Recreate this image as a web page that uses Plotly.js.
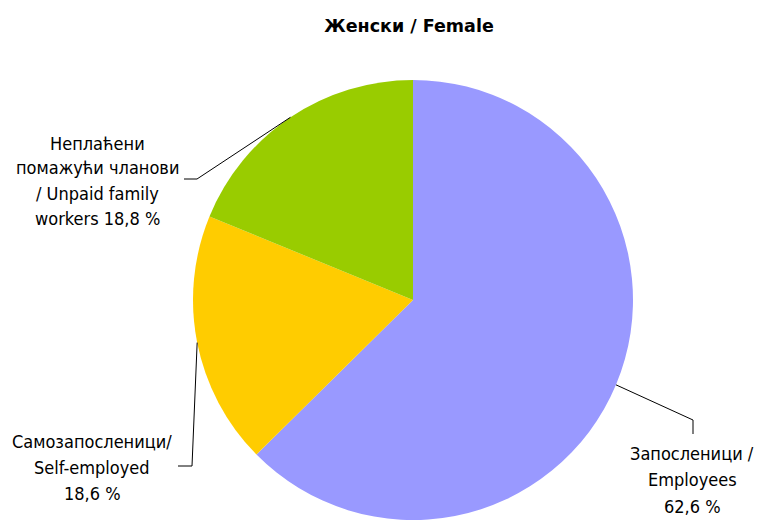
<!DOCTYPE html>
<html>
<head>
<meta charset="utf-8">
<script src="https://cdn.plot.ly/plotly-3.0.1.min.js"></script>
<style>
  body { margin: 0; background: #fff; }
  #chart { width: 763px; height: 520px; }
</style>
</head>
<body>
<div id="chart"></div>
<script>
// data
var categories = ['Запосленици / Employees', 'Самозапосленици/ Self-employed', 'Неплаћени помажући чланови / Unpaid family workers'];
var shares = [62.6, 18.6, 18.8];
var labelLines = [
    ['Запосленици /', 'Employees', '62,6 %'],
    ['Самозапосленици/', 'Self-employed', '18,6 %'],
    ['Неплаћени', 'помажући чланови', '/ Unpaid family', 'workers 18,8 %']
];
var colors = ['#9999FF', '#FFCC00', '#99CC00'];

var W = 763, H = 520;
var cx = 413, cy = 300, r = 220;

// label layout: centre x, first line y, line step, leader elbow and end (pixels)
var labelPos = [
    { x: 692, y: 453, step: 26.5, elbow: [693, 420], end: [693, 434] },
    { x: 92, y: 441, step: 26, elbow: [192, 466], end: [178, 466] },
    { x: 97, y: 143, step: 25, elbow: [197, 179], end: [184, 179] }
];

function px(x) { return x / W; }
function py(y) { return 1 - y / H; }

var font = '"DejaVu Sans Condensed", "DejaVu Sans", sans-serif';

var annotations = [];
var shapes = [];
var total = shares.reduce(function (a, b) { return a + b; }, 0);
var cum = 0;
shares.forEach(function (v, i) {
    var mid = (cum + v / 2) / total * 2 * Math.PI;
    cum += v;
    var ex = cx + r * Math.sin(mid);
    var ey = cy - r * Math.cos(mid);
    var p = labelPos[i];
    shapes.push({
        type: 'path', xref: 'paper', yref: 'paper',
        path: 'M' + px(ex) + ',' + py(ey) + ' L' + px(p.elbow[0]) + ',' + py(p.elbow[1]) +
              ' L' + px(p.end[0]) + ',' + py(p.end[1]),
        line: { color: '#000', width: 1 }
    });
    labelLines[i].forEach(function (t, k) {
        annotations.push({
            xref: 'paper', yref: 'paper', x: px(p.x), y: py(p.y + k * p.step),
            xanchor: 'center', yanchor: 'middle', showarrow: false,
            text: t, font: { family: font, size: 18, color: '#000' }
        });
    });
});

var trace = {
    type: 'pie',
    labels: categories,
    values: shares,
    sort: false,
    direction: 'clockwise',
    rotation: 0,
    marker: { colors: colors, line: { width: 0 } },
    textinfo: 'none',
    hoverinfo: 'label+percent',
    showlegend: false,
    domain: { x: [(cx - r) / W, (cx + r) / W], y: [0, 2 * r / H] }
};

var layout = {
    width: W, height: H,
    margin: { l: 0, r: 0, t: 0, b: 0 },
    paper_bgcolor: '#fff',
    showlegend: false,
    title: {
        text: '<b>Женски / Female</b>',
        font: { family: 'DejaVu Sans, sans-serif', size: 17.5, color: '#000' },
        x: px(409), xanchor: 'center', y: py(26), yanchor: 'middle'
    },
    annotations: annotations,
    shapes: shapes
};

Plotly.newPlot('chart', [trace], layout, { displayModeBar: false, staticPlot: true });
</script>
</body>
</html>
